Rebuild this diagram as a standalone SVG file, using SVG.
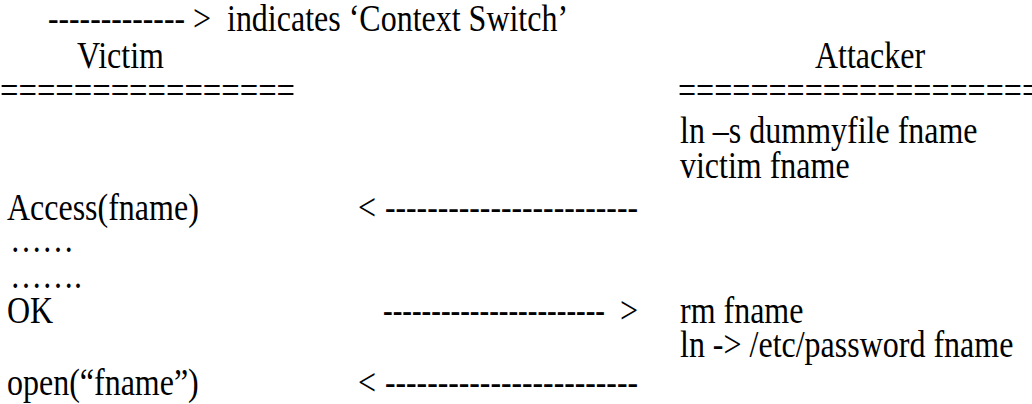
<svg xmlns="http://www.w3.org/2000/svg" width="1032" height="404" viewBox="0 0 1032 404">
  <style>
    text { font-family: "Liberation Serif", "Times New Roman", serif; font-size: 32px; fill: #000; }
  </style>
  <rect width="1032" height="404" fill="#fff"/>
  <!-- text is set slightly taller than wide; y values are in the scaled space -->
  <g transform="scale(1,1.2)">
    <g id="legend">
      <text x="48" y="25.5" textLength="137" lengthAdjust="spacingAndGlyphs">-------------</text>
      <text x="193" y="25.5">&gt;</text>
      <text x="227" y="25.5">indicates ‘Context Switch’</text>
    </g>
    <g id="victim">
      <text x="77" y="56.7">Victim</text>
      <text x="0" y="86" textLength="295" lengthAdjust="spacingAndGlyphs">================</text>
      <text x="7" y="183.3">Access(fname)</text>
      <text x="10" y="210">……</text>
      <text x="10" y="240">…….</text>
      <text x="7" y="269.2">OK</text>
      <text x="7" y="329.2">open(“fname”)</text>
    </g>
    <g id="attacker">
      <text x="815" y="56.7">Attacker</text>
      <text x="678" y="86" textLength="362" lengthAdjust="spacingAndGlyphs">====================</text>
      <text x="680" y="119.2">ln –s dummyfile fname</text>
      <text x="680" y="148.3">victim fname</text>
      <text x="680" y="269.2">rm fname</text>
      <text x="680" y="297.5">ln -&gt; /etc/password fname</text>
    </g>
    <g id="connectors">
      <text x="358" y="183.3">&lt;</text>
      <text x="385" y="183.3" textLength="253" lengthAdjust="spacingAndGlyphs">------------------------</text>
      <text x="383" y="269.2" textLength="222" lengthAdjust="spacingAndGlyphs">-----------------------</text>
      <text x="620" y="269.2">&gt;</text>
      <text x="358" y="329.2">&lt;</text>
      <text x="385" y="329.2" textLength="253" lengthAdjust="spacingAndGlyphs">------------------------</text>
    </g>
  </g>
</svg>
